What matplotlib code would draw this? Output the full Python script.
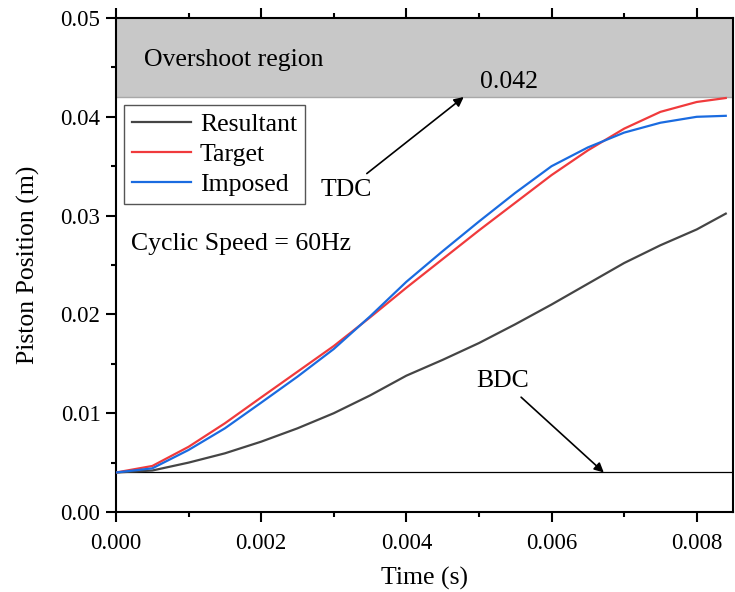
import matplotlib
matplotlib.use("Agg")
import matplotlib.pyplot as plt

plt.rcParams['font.family'] = ['Liberation Serif', 'DejaVu Serif']

time_s = [0.0, 0.0005, 0.001, 0.0015, 0.002, 0.0025, 0.003, 0.0035, 0.004,
          0.0045, 0.005, 0.0055, 0.006, 0.0065, 0.007, 0.0075, 0.008, 0.0084]
resultant = [0.004, 0.0042, 0.0050, 0.00594, 0.00712, 0.00847, 0.0100, 0.0118, 0.0138,
             0.0154, 0.0171, 0.0190, 0.0210, 0.0231, 0.0252, 0.0270, 0.0286, 0.0302]
target = [0.004, 0.00466, 0.0066, 0.00898, 0.0116, 0.0142, 0.0168, 0.0197, 0.0227,
          0.0256, 0.0285, 0.0313, 0.0341, 0.0366, 0.0388, 0.0405, 0.0415, 0.0419]
imposed = [0.004, 0.00442, 0.00628, 0.00847, 0.01107, 0.0137, 0.0165, 0.0198, 0.0233,
           0.0264, 0.0294, 0.0323, 0.0350, 0.0369, 0.0384, 0.0394, 0.0400, 0.0401]

series_names = ["Resultant", "Target", "Imposed"]
series_colors = ["#454545", "#f03a3c", "#1a6be0"]

bdc_level = 0.004
overshoot_level = 0.042
x_max = 0.0085
y_max = 0.05

fig = plt.figure(figsize=(7.35, 5.92), dpi=100)
ax = fig.add_axes([0.1578, 0.1351, 0.8395, 0.8345])

ax.axhspan(overshoot_level, y_max, facecolor="#c8c8c8", edgecolor="none", zorder=0)
ax.axhline(overshoot_level, color="#a8a8a8", lw=1.0, zorder=1)
ax.axhline(bdc_level, color="black", lw=0.9, zorder=1)

for data, name, col in zip([resultant, target, imposed], series_names, series_colors):
    ax.plot(time_s, data, color=col, lw=1.6, label=name, zorder=3,
            solid_joinstyle="round")

ax.set_xlim(0, x_max)
ax.set_ylim(0, y_max)
ax.set_xticks([0.000, 0.002, 0.004, 0.006, 0.008])
ax.set_xticklabels(["0.000", "0.002", "0.004", "0.006", "0.008"])
ax.set_yticks([0.00, 0.01, 0.02, 0.03, 0.04, 0.05])
ax.set_yticklabels(["0.00", "0.01", "0.02", "0.03", "0.04", "0.05"])
ax.set_xticks([0.001, 0.003, 0.005, 0.007], minor=True)
ax.set_yticks([0.005, 0.015, 0.025, 0.035, 0.045], minor=True)

ax.tick_params(which="both", direction="out", width=1.5, labelsize=16.5,
               top=True, right=False)
ax.tick_params(which="major", length=7.2)
ax.tick_params(which="minor", length=3.6)
ax.tick_params(axis="x", pad=8)
ax.tick_params(axis="y", pad=4)
for sp in ax.spines.values():
    sp.set_linewidth(1.5)

ax.set_xlabel("Time (s)", fontsize=18.5, labelpad=9)
ax.set_ylabel("Piston Position (m)", fontsize=18.5, labelpad=15)

leg = ax.legend(loc="upper left", bbox_to_anchor=(0.013, 0.824), borderaxespad=0,
                fontsize=18.5, handlelength=2.3, handletextpad=0.35,
                labelspacing=0.28, borderpad=0.3, fancybox=False, framealpha=1)
leg.get_frame().set_edgecolor("#555555")
leg.get_frame().set_linewidth(1.0)

ax.text(0.00038, 0.0457, "Overshoot region", fontsize=18.5, va="center", ha="left")
ax.text(0.00542, 0.0435, "0.042", fontsize=18.5, va="center", ha="center")
ax.text(0.0002, 0.0271, "Cyclic Speed = 60Hz", fontsize=18.5, va="center", ha="left")

ax.annotate("TDC", xy=(0.00479, 0.042), xytext=(0.00317, 0.0326),
            fontsize=18.5, ha="center", va="center",
            arrowprops=dict(arrowstyle="-|>", color="black", lw=1.2,
                            mutation_scale=14, shrinkA=3, shrinkB=0))
ax.annotate("BDC", xy=(0.00672, 0.004), xytext=(0.00533, 0.0133),
            fontsize=18.5, ha="center", va="center",
            arrowprops=dict(arrowstyle="-|>", color="black", lw=1.2,
                            mutation_scale=14, shrinkA=3, shrinkB=0))

fig.savefig("out.png", dpi=100)
